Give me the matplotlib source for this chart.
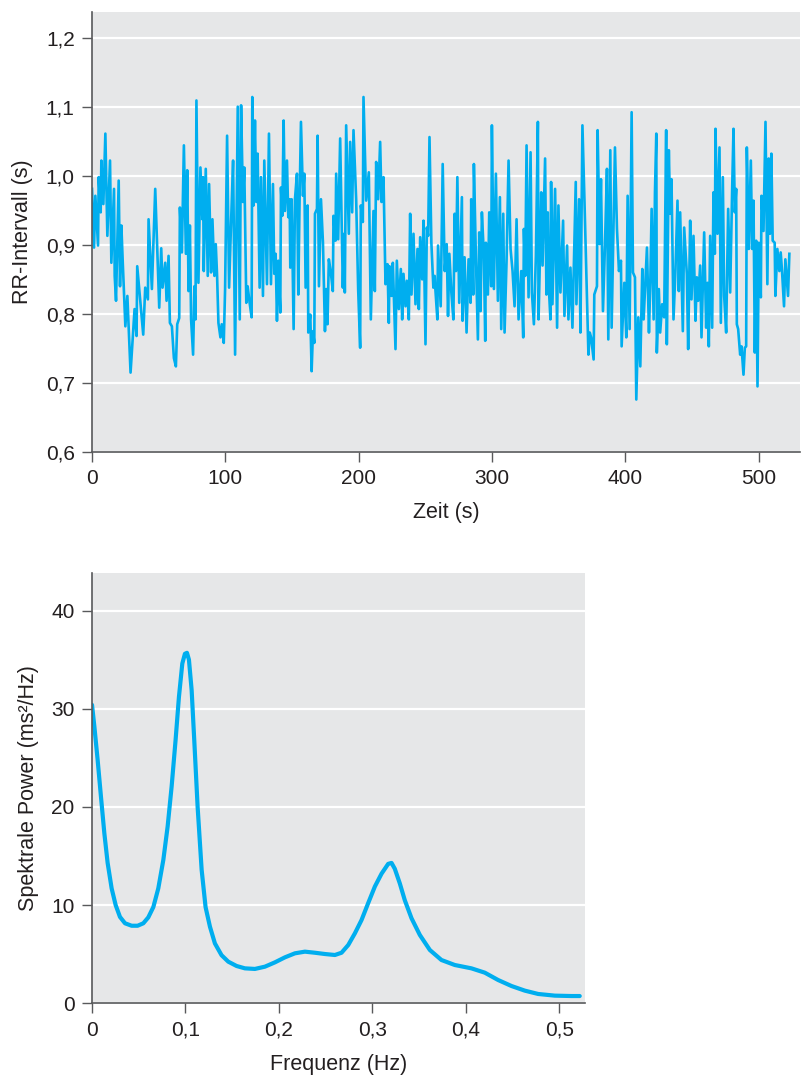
import matplotlib
matplotlib.use("Agg")
import matplotlib.pyplot as plt
from matplotlib.ticker import FuncFormatter

# RR intervals (s) over time (s)
zeit = [
    0, 1.5, 2.5, 4.5, 5.0, 6.5, 7.0, 8.5, 10.0, 11.5, 13.5, 14.5, 16.5, 17.0, 18.0, 20.0,
    21.0, 22.0, 23.0, 25.0, 26.5, 28.9, 31.9, 33.4, 33.9, 38.4, 39.9, 41.9, 42.4, 44.9,
    47.4, 50.4, 51.9, 52.9, 54.9, 55.9, 57.4, 58.4, 59.9, 61.4, 62.9, 63.9, 65.4, 65.9,
    67.4, 68.9, 70.4, 71.4, 72.4, 73.4, 74.3, 75.8, 76.8, 77.6, 78.3, 79.8,
    81.3, 82.8, 83.3, 83.8, 85.3, 86.8, 87.8, 89.3, 90.3, 91.8, 92.8, 93.8, 94.8, 96.3,
    97.3, 98.8, 99.8, 101.3, 102.8, 104.3, 105.8, 107.3, 109.3, 110.8, 111.8, 113.2,
    114.2, 115.7, 116.7, 118.2, 119.7, 120.2, 121.2, 122.2, 123.2, 124.2, 125.7, 126.7,
    128.2, 129.2, 131.2, 132.7, 134.2, 135.7, 136.7, 137.7, 138.7, 139.7, 141.2, 141.7,
    142.7, 143.7, 144.7, 146.2, 147.2, 148.2, 148.7, 149.7, 151.2, 152.2, 153.7, 154.7,
    155.7, 156.7, 158.2, 159.2, 160.2, 161.7, 162.2, 163.7, 164.7, 165.7, 166.7, 167.2,
    168.7, 169.2, 170.2,
    171.7, 173.2, 174.7, 175.6, 176.6, 177.6, 179.1, 180.6, 181.1, 182.6, 183.1, 184.6,
    186.1, 188.1, 189.1, 189.6, 190.6, 192.6, 193.6, 195.1, 196.1, 198.1, 199.6, 201.1,
    201.6, 203.1, 203.6, 205.6, 207.6, 209.1, 211.1, 212.1, 213.1, 214.6, 216.1, 217.1,
    218.6, 220.1, 221.6, 222.6, 223.1, 224.6, 225.6, 227.6, 228.6, 230.1, 231.6, 232.6,
    233.6, 235.1, 236.1, 237.6, 238.6, 239.6, 241.1, 242.6, 244.1, 245.1, 246.1, 247.6,
    248.6, 250.1, 251.1, 252.1, 253.1, 254.1,
    254.5, 256.0, 257.0, 257.5, 259.0, 259.5, 261.5, 263.0, 264.5, 266.0, 267.0, 268.0,
    269.5, 271.0, 272.0, 273.0, 274.0, 275.4, 277.4, 277.9, 279.4, 280.9, 282.4, 283.9,
    284.4, 285.9, 286.4, 287.9, 289.4, 290.4, 291.4, 292.4, 293.9, 294.9, 295.4, 296.9,
    297.9, 299.4, 299.9, 301.4, 302.9, 304.4, 305.9, 306.9, 308.4, 309.4, 310.9, 312.4,
    313.9, 315.4, 316.9, 318.4, 319.9, 321.9, 323.4, 323.9, 324.9, 325.9, 327.4, 328.9,
    329.9, 331.4, 332.9, 334.4, 334.9, 335.9, 336.9, 337.9,
    339.8, 340.8, 341.8, 342.8, 343.8, 344.3, 345.3, 347.3, 348.8, 349.8, 351.3, 353.3,
    354.3, 356.3, 357.3, 358.8, 360.3, 362.8, 363.3, 365.3, 366.3, 367.8, 369.3, 372.3,
    373.3, 374.3, 376.2, 376.7, 378.7, 379.2, 380.7, 381.7, 383.2, 384.7, 386.2, 387.2,
    388.7, 389.7, 392.2, 393.7, 395.2, 396.7, 397.2, 399.2, 400.7, 401.7, 403.2, 404.7,
    405.7, 407.2, 408.2, 409.7, 411.2, 412.7, 413.7, 416.2, 417.7, 418.7, 419.7, 421.2,
    422.2,
    423.2, 423.6, 425.1, 426.1, 427.6, 429.1, 430.6, 431.1, 432.6, 433.6, 434.6, 436.1,
    437.6, 439.1, 440.1, 441.1, 443.1, 444.1, 446.1, 447.1, 448.6, 449.6, 451.1, 452.6,
    453.6, 454.6, 456.1, 457.1, 459.1, 460.6, 461.6, 462.6, 463.6, 465.1, 466.1, 467.1,
    467.6, 469.1, 470.6, 471.6, 473.1, 474.1, 475.6, 477.1, 478.6, 480.1, 481.1, 482.1,
    483.1, 483.6, 484.6, 486.1, 487.1, 488.6, 489.6, 490.6, 491.1, 492.6, 494.1, 495.1,
    496.1, 497.1, 498.1, 499.1, 500.1, 501.6, 502.1, 503.6, 505.1,
    506.5, 507.5, 508.5, 509.5, 510.5, 512.0, 512.5, 514.0, 515.5, 516.5, 517.5, 519.0,
    520.0, 521.5, 522.0, 523.0,
]
rr = [
    0.981, 0.896, 0.971, 0.899, 0.998, 0.947, 1.022, 0.959, 1.061, 0.913, 1.022, 0.874,
    0.981, 0.855, 0.819, 0.993, 0.840, 0.928, 0.877, 0.782, 0.826, 0.715, 0.807, 0.768,
    0.869, 0.770, 0.838, 0.821, 0.937, 0.836, 0.981, 0.809, 0.895, 0.838, 0.874, 0.819,
    0.884, 0.787, 0.782, 0.736, 0.724, 0.785, 0.794, 0.954, 0.889, 1.044, 0.887, 1.008,
    0.833, 0.928, 0.792, 0.741, 0.840, 0.792, 1.109, 0.845,
    1.012, 0.937, 0.998, 0.862, 1.010, 0.855, 0.988, 0.860, 0.937, 0.855, 0.901, 0.855,
    0.787, 0.766, 0.785, 0.758, 0.836, 1.058, 0.838, 0.933, 1.022, 0.741, 1.100, 0.792,
    1.102, 0.962, 1.012, 0.816, 0.840, 0.816, 0.795, 1.114, 0.957, 1.080, 0.962, 1.032,
    0.838, 0.998, 0.826, 1.022, 0.843, 1.061, 0.843, 0.988, 0.858, 0.887, 0.790, 0.877,
    0.802, 0.983, 0.942, 1.080, 0.949, 1.022, 0.940, 0.966, 0.867, 0.966, 0.778, 0.966,
    1.003, 0.828, 0.969, 1.078, 0.971, 1.003, 0.838, 0.957, 0.773, 0.799, 0.717, 0.775,
    0.758, 0.945, 0.952, 1.058, 0.840,
    0.966, 0.903, 0.775, 0.836, 0.785, 0.879, 0.860, 0.833, 0.942, 0.906, 1.003, 0.908,
    1.054, 0.838, 0.916, 0.831, 1.073, 0.916, 1.049, 0.947, 1.066, 0.966, 0.836, 0.751,
    0.957, 0.933, 1.114, 0.964, 1.005, 0.792, 0.949, 0.833, 1.020, 0.966, 1.049, 0.962,
    0.998, 0.843, 0.872, 0.787, 0.869, 0.826, 0.874, 0.749, 0.877, 0.807, 0.865, 0.792,
    0.858, 0.811, 0.848, 0.792, 0.945, 0.828, 0.916, 0.814, 0.894, 0.807, 0.911, 0.850,
    0.935, 0.756, 0.925, 0.913, 1.056, 0.952,
    0.903, 0.838, 0.855, 0.836, 0.792, 0.899, 0.811, 1.017, 0.862, 0.901, 0.797, 0.887,
    0.831, 0.792, 0.945, 0.862, 0.998, 0.816, 0.969, 0.790, 0.882, 0.773, 0.879, 0.816,
    0.966, 0.828, 1.017, 0.882, 0.763, 0.918, 0.804, 0.947, 0.884, 0.761, 0.903, 0.828,
    0.947, 0.840, 1.073, 0.836, 1.003, 0.819, 0.969, 0.778, 0.945, 0.773, 0.877, 1.022,
    0.894, 0.862, 0.811, 0.937, 0.792, 0.862, 0.766, 0.923, 0.855, 1.044, 0.824, 1.034,
    0.831, 0.785, 0.884, 1.078, 0.792, 0.879, 0.976, 0.870,
    1.025, 0.828, 0.947, 0.831, 0.792, 0.991, 0.814, 0.981, 0.780, 0.957, 0.831, 0.935,
    0.797, 0.899, 0.792, 0.867, 0.780, 0.991, 0.814, 0.966, 0.773, 1.073, 0.966, 0.741,
    0.773, 0.766, 0.734, 0.828, 0.840, 1.066, 0.901, 0.995, 0.804, 0.899, 1.010, 0.763,
    1.037, 0.780, 1.041, 0.923, 0.862, 0.877, 0.753, 0.845, 0.766, 0.971, 0.778, 1.092,
    0.860, 0.853, 0.676, 0.795, 0.724, 0.865, 0.792, 0.896, 0.773, 0.845, 0.952, 0.792,
    0.976,
    1.061, 0.744, 0.836, 0.773, 0.814, 0.795, 1.066, 0.756, 1.037, 0.945, 0.995, 0.792,
    0.865, 0.964, 0.833, 0.947, 0.775, 0.925, 0.858, 0.749, 0.935, 0.821, 0.913, 0.790,
    0.853, 0.819, 0.870, 0.766, 0.918, 0.780, 0.845, 0.753, 0.913, 0.780, 0.976, 0.887,
    1.068, 0.916, 1.041, 0.787, 0.998, 0.826, 0.773, 0.952, 0.831, 0.981, 1.068, 0.947,
    0.981, 0.785, 0.778, 0.741, 0.753, 0.712, 0.751, 0.753, 1.041, 0.894, 1.022, 0.894,
    0.964, 0.744, 0.906, 0.695, 0.903, 0.824, 0.971, 0.920, 1.078,
    0.843, 1.025, 0.916, 1.032, 0.906, 0.903, 0.826, 0.894, 0.862, 0.889, 0.862, 0.811,
    0.879, 0.840, 0.826, 0.887,
]

# power spectrum
frequenz = [
    0, 0.0025, 0.0060, 0.0096, 0.0132, 0.0167, 0.0210, 0.0253, 0.0299, 0.0353, 0.0424,
    0.0488, 0.0549, 0.0602, 0.0656, 0.0709, 0.0763, 0.0809, 0.0852, 0.0894, 0.0930,
    0.0966, 0.0994, 0.1016, 0.1037, 0.1066, 0.1094, 0.1130, 0.1173, 0.1215, 0.1262,
    0.1315, 0.1386, 0.1458, 0.1547,
    0.1636, 0.1743, 0.1850, 0.1957, 0.2064, 0.2171, 0.2278, 0.2385, 0.2492, 0.2599,
    0.2670, 0.2742, 0.2813, 0.2884, 0.2955, 0.3027, 0.3098, 0.3169, 0.3205, 0.3240,
    0.3294, 0.3347, 0.3419, 0.3508, 0.3615, 0.3739, 0.3882, 0.4060, 0.4203, 0.4346,
    0.4489, 0.4631, 0.4774, 0.4952, 0.5130, 0.5219,
]
power = [
    30.4, 28.2, 24.8, 21.0, 17.3, 14.3, 11.7, 10.0, 8.8, 8.15, 7.9,
    7.9, 8.15, 8.75, 9.8, 11.7, 14.6, 18.0, 22.1, 26.8, 31.2,
    34.6, 35.6, 35.7, 35.0, 31.9, 26.8, 20.0, 13.6, 9.8, 7.8,
    6.1, 4.9, 4.24, 3.8,
    3.56, 3.5, 3.73, 4.17, 4.68, 5.09, 5.26, 5.15, 5.02, 4.92,
    5.15, 5.94, 7.13, 8.48, 10.2, 11.9, 13.2, 14.2, 14.3, 13.7,
    12.2, 10.5, 8.66, 6.96, 5.43, 4.41, 3.9, 3.56, 3.12, 2.37,
    1.76, 1.29, 0.95, 0.78, 0.74, 0.74,
]

rr_ticks = [0.6, 0.7, 0.8, 0.9, 1.0, 1.1, 1.2]
zeit_ticks = [0, 100, 200, 300, 400, 500]
power_ticks = [0, 10, 20, 30, 40]
freq_ticks = [0, 0.1, 0.2, 0.3, 0.4, 0.5]

LINE = "#00aeef"
BG = "#e6e7e8"
AXIS = "#58595b"
TEXT = "#231f20"

plt.rcParams["font.family"] = ["Liberation Sans", "DejaVu Sans"]
plt.rcParams["font.size"] = 15
plt.rcParams["text.color"] = TEXT
plt.rcParams["axes.labelcolor"] = TEXT


def komma(v, pos):
    # German decimal comma, plain "0" for zero
    if v == 0:
        return "0"
    return ("%.1f" % v).replace(".", ",")


def style_axes(ax):
    ax.set_facecolor(BG)
    for side in ["top", "right"]:
        ax.spines[side].set_visible(False)
    for side in ["left", "bottom"]:
        ax.spines[side].set_color(AXIS)
        ax.spines[side].set_linewidth(1.2)
    ax.grid(True, axis="y", color="white", linewidth=1.6)
    ax.set_axisbelow(True)
    ax.tick_params(direction="out", length=7.5, width=1.0, color=AXIS,
                   labelcolor=TEXT, labelsize=15, pad=5)


fig = plt.figure(figsize=(8.03, 10.75), dpi=100)

ax1 = fig.add_axes([0.1146, 0.5795, 0.8817, 0.4093])
style_axes(ax1)
ax1.plot(zeit, rr, color=LINE, linewidth=1.9)
ax1.set_xlim(0, 531)
ax1.set_ylim(0.6, 1.237)
ax1.set_xticks(zeit_ticks)
ax1.set_yticks(rr_ticks)
ax1.yaxis.set_major_formatter(FuncFormatter(komma))
ax1.set_xlabel("Zeit (s)", fontsize=15.5, labelpad=10)
ax1.set_ylabel("RR-Intervall (s)", fontsize=15.5, labelpad=9)

ax2 = fig.add_axes([0.1146, 0.0667, 0.614, 0.4])
style_axes(ax2)
ax2.plot(frequenz, power, color=LINE, linewidth=3.0, solid_capstyle="round",
         solid_joinstyle="round")
ax2.set_xlim(0, 0.5276)
ax2.set_ylim(0, 43.8)
ax2.set_xticks(freq_ticks)
ax2.set_yticks(power_ticks)
ax2.xaxis.set_major_formatter(FuncFormatter(komma))
ax2.set_xlabel("Frequenz (Hz)", fontsize=15.5, labelpad=10)
ax2.set_ylabel("Spektrale Power (ms²/Hz)", fontsize=15.5, labelpad=9)

fig.savefig("out.png", dpi=100)
